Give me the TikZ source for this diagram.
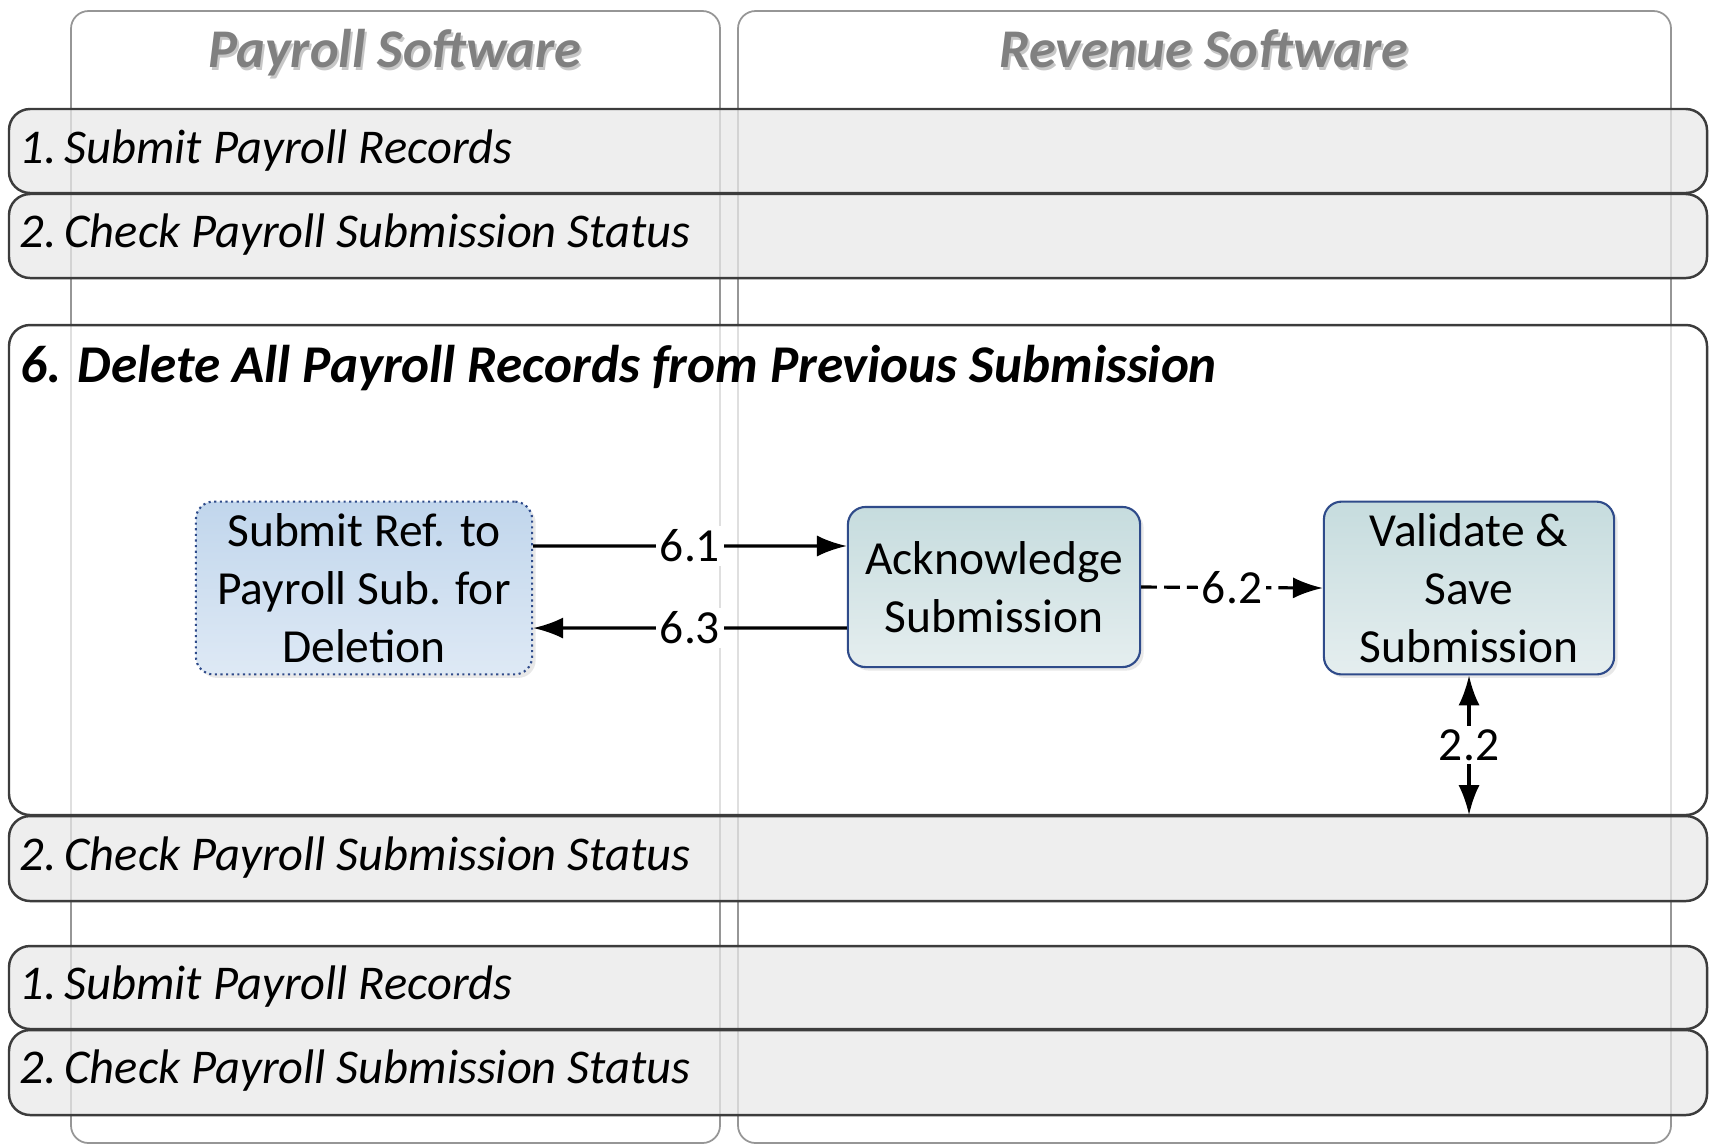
\documentclass[tikz,border=0pt]{standalone}
\usepackage{fontspec}
\setmainfont{Carlito}
\usetikzlibrary{arrows.meta,shadows}

\definecolor{barfill}{RGB}{232,232,232}
\definecolor{barline}{RGB}{60,60,60}
\definecolor{laneline}{RGB}{150,150,150}
\definecolor{titlegray}{RGB}{128,128,128}
\definecolor{boxline}{RGB}{47,75,138}
\definecolor{subtop}{RGB}{193,214,236}
\definecolor{subbot}{RGB}{222,233,245}
\definecolor{acktop}{RGB}{198,220,222}
\definecolor{ackbot}{RGB}{229,238,239}

\tikzset{
  lane/.style={draw=laneline, line width=0.5pt, rounded corners=5pt},
  lanetitle/.style={anchor=base, font=\fontsize{15.5}{18}\selectfont\bfseries\itshape, text=titlegray},
  laneshadow/.style={anchor=base, font=\fontsize{15.5}{18}\selectfont\bfseries\itshape, text=black!22},
  phasebar/.style={draw=barline, line width=0.7pt, rounded corners=6pt, fill=barfill, fill opacity=0.75},
  phasebox/.style={draw=barline, line width=0.7pt, rounded corners=6pt, fill=white, fill opacity=0.7},
  bartext/.style={anchor=west, inner sep=0pt, font=\fontsize{13.8}{16}\selectfont\itshape},
  task/.style={draw=boxline, line width=0.6pt, rounded corners=5pt, align=center,
    minimum height=1.6cm, font=\fontsize{13.5}{16.5}\selectfont,
    drop shadow={opacity=0.18, shadow xshift=1pt, shadow yshift=-1pt}},
  flow/.style={line width=0.9pt, -{Latex[length=8.5pt,width=6pt]}},
  flowlabel/.style={fill=white, inner sep=1pt, font=\fontsize{13.5}{16}\selectfont}
}

\begin{document}
\begin{tikzpicture}[x=0.01cm, y=-0.01cm]
\useasboundingbox (0,0) rectangle (1710,1147);

% swim lanes
\draw[lane] (71,11) rectangle (720,1143);
\draw[lane] (738,11) rectangle (1671,1143);
\node[laneshadow] (ps) at (397,70) {Payroll Software};
\node[lanetitle] (pt) at (395,67) {Payroll Software};
\node[laneshadow] (rs) at (1206,70) {Revenue Software};
\node[lanetitle] (rt) at (1204,67) {Revenue Software};

% phases
\draw[phasebar] (9,109) rectangle (1707,193);
\draw[phasebar] (9,194) rectangle (1707,278);
\draw[phasebox] (9,325) rectangle (1707,815);
\draw[phasebar] (9,816) rectangle (1707,901);
\draw[phasebar] (9,946) rectangle (1707,1029);
\draw[phasebar] (9,1030) rectangle (1707,1115);

\node[bartext] (b1) at (19,151) {1.\,Submit Payroll Records};
\node[bartext] (b2) at (19,235) {2.\,Check Payroll Submission Status};
\node[bartext, font=\fontsize{15.1}{18}\selectfont\bfseries\itshape] (b6) at (20,368)
  {6. Delete All Payroll Records from Previous Submission};
\node[bartext] (b3) at (19,858) {2.\,Check Payroll Submission Status};
\node[bartext] (b4) at (19,987) {1.\,Submit Payroll Records};
\node[bartext] (b5) at (19,1071) {2.\,Check Payroll Submission Status};

% tasks
\node[task, densely dotted, minimum width=3.36cm, top color=subtop, bottom color=subbot] (sub) at (364,588)
  {Submit Ref. to\\Payroll Sub. for\\Deletion};
\node[task, minimum width=2.92cm, top color=acktop, bottom color=ackbot] (ack) at (994,587)
  {Acknowledge\\Submission};
\node[task, minimum width=2.9cm, top color=acktop, bottom color=ackbot] (val) at (1469,588)
  {Validate \&\\Save\\Submission};
\coordinate (c22) at (1469,815);

\draw[flow] ([yshift=0.42cm]sub.east) -- node[flowlabel] {6.1} ([yshift=0.41cm]ack.west);
\draw[flow] ([yshift=-0.41cm]ack.west) -- node[flowlabel] {6.3} ([yshift=-0.4cm]sub.east);
\draw[flow, dash pattern=on 4.5pt off 2pt] (ack.east) -- node[flowlabel] {6.2} (val.west);
\draw[flow, {Latex[length=8.5pt,width=6pt]}-{Latex[length=8.5pt,width=6pt]}] (val.south) -- node[flowlabel] {2.2} (c22);
\end{tikzpicture}
\end{document}
